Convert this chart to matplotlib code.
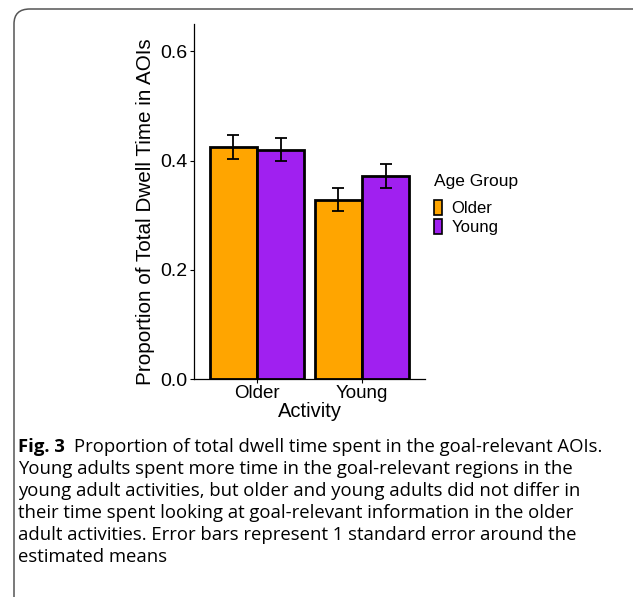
import numpy as np
import matplotlib.pyplot as plt
from matplotlib.patches import FancyBboxPatch, Patch

activities = ["Older", "Young"]
groups = ["Older", "Young"]
colors = ["#FFA500", "#A020F0"]
means = {"Older": [0.424, 0.328], "Young": [0.420, 0.371]}
errors = {"Older": [0.022, 0.021], "Young": [0.021, 0.022]}

caption_bold = "Fig. 3"
caption = [
    "Proportion of total dwell time spent in the goal-relevant AOIs.",
    "Young adults spent more time in the goal-relevant regions in the",
    "young adult activities, but older and young adults did not differ in",
    "their time spent looking at goal-relevant information in the older",
    "adult activities. Error bars represent 1 standard error around the",
    "estimated means",
]

plt.rcParams['font.family'] = ['Liberation Sans', 'DejaVu Sans']

W, H = 633, 597
fig = plt.figure(figsize=(W / 100, H / 100), dpi=100)

# rounded frame around the figure panel
frame = FancyBboxPatch((14 / W, -0.2), 1.2, 1 - 9 / H + 0.2,
                       boxstyle="round,pad=0,rounding_size=0.025",
                       transform=fig.transFigure, fill=False,
                       edgecolor="#555555", linewidth=1.1)
fig.patches.append(frame)

ax = fig.add_axes([194 / W, 218 / H, (425 - 194) / W, (379 - 24) / H])

x = np.arange(1, len(activities) + 1)
width = 0.45
for i, g in enumerate(groups):
    pos = x + (i - 0.5) * width
    ax.bar(pos, means[g], width, color=colors[i], edgecolor="black",
           linewidth=2, zorder=2)
    ax.errorbar(pos, means[g], yerr=errors[g], fmt="none", ecolor="black",
                elinewidth=1.3, capsize=4.5, capthick=1.3, zorder=3)

ax.set_xlim(0.4, 2.6)
ax.set_ylim(0, 0.65)
ax.set_xticks(x)
ax.set_xticklabels(activities)
ax.set_yticks([0.0, 0.2, 0.4, 0.6])
ax.set_yticklabels(["0.0", "0.2", "0.4", "0.6"])
ax.tick_params(length=3, width=0.8, pad=2, colors="black")
ax.tick_params(axis="y", labelsize=14)
ax.tick_params(axis="x", labelsize=13.5, pad=1)
for s in ["top", "right"]:
    ax.spines[s].set_visible(False)
for s in ["left", "bottom"]:
    ax.spines[s].set_linewidth(0.9)
ax.set_xlabel("Activity", fontsize=14.5, labelpad=0)
ax.set_ylabel("Proportion of Total Dwell Time in AOIs", fontsize=14.9)
ax.yaxis.set_label_coords(-0.17, 0.47)

handles = [Patch(facecolor=c, edgecolor="black", linewidth=1.2) for c in colors]
leg = ax.legend(handles, groups, title="Age Group", loc="upper left",
                bbox_to_anchor=(0.975, 0.62), frameon=False, fontsize=12,
                title_fontsize=12.5, handlelength=0.45, handleheight=1.0,
                handletextpad=0.6, labelspacing=0.15, alignment="left")
leg._legend_box.sep = 8

# caption
y0 = 1 - 447 / H
fs = 13.3
fig.text(18 / W, y0, caption_bold, fontsize=fs, fontweight="bold",
         family="Open Sans", va="center", ha="left")
fig.text(74 / W, y0, caption[0], fontsize=fs, family="Open Sans",
         va="center", ha="left")
for k, line in enumerate(caption[1:]):
    fig.text(18 / W, y0 - (k + 1) * 22 / H, line, fontsize=fs,
             family="Open Sans", va="center", ha="left")

fig.savefig("out.png", dpi=100)
